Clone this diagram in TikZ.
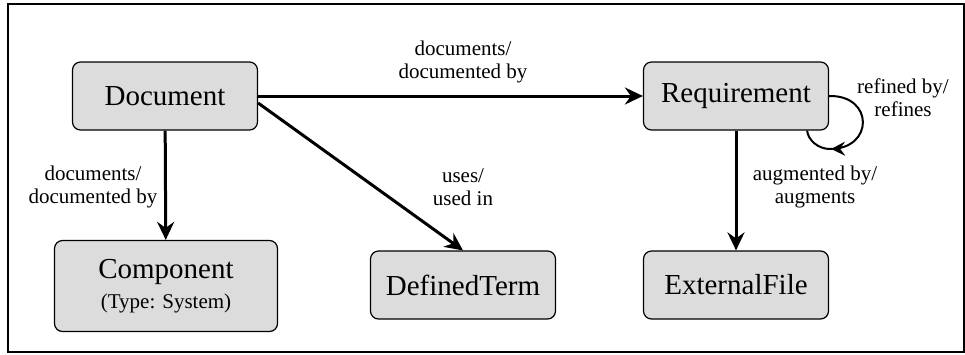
\documentclass[tikz,border=0pt]{standalone}
\usepackage{fontspec}
\setmainfont{Liberation Serif}
\usetikzlibrary{arrows.meta,decorations.markings}
\definecolor{entityfill}{RGB}{220,220,220}

\begin{document}
\begin{tikzpicture}[x=1pt, y=-1pt,
    entity/.style ={draw, line width=1.2pt, rounded corners=8pt, fill=entityfill,
      minimum width=185pt, minimum height=68pt, inner sep=0pt, align=center,
      font=\fontsize{29}{31}\selectfont},
    relation/.style ={line width=3pt, -{Stealth[length=18pt, width=17pt, inset=6pt]}},
    role/.style ={align=center, inner sep=0pt, font=\fontsize{21}{23}\selectfont}]
   \useasboundingbox (0,0) rectangle (965,354);
   \draw[line width=1.5pt] (8,4) rectangle (964,352);
   % entities
   \node[entity] (Doc) at (165,96) {Document};
   \node[entity] (Req) at (736,96) {Requirement};
   \node[entity, minimum width=223pt, minimum height=91pt] (Comp) at (166,286)
      {Component\\[-1pt]{\fontsize{21}{23}\selectfont (Type: System)}};
   \node[entity] (Term) at (463,285) {DefinedTerm};
   \node[entity] (File) at (736,285) {ExternalFile};
   % relations
   \draw[relation] (Doc) to (Req);
   \draw[relation] (Doc) to (Comp);
   \draw[relation] ([yshift=-7pt]Doc.east) to (Term.north);
   \draw[relation] (Req) to (File);
   \draw[line width=2pt, postaction={decorate},
      decoration={markings, mark=at position 0.74 with {\arrow{Stealth[length=14pt, width=14pt, inset=5pt]}}}]
      (Req.east) .. controls (874,95) and (874,149) .. (830,149)
      .. controls (818,149) and (808,140) .. ([xshift=-22pt]Req.south east);
   % roles
   \node[role] (DocReq) at (463,62) {documents/\\documented by};
   \node[role] (DocComp) at (93,187) {documents/\\documented by};
   \node[role] (DocTerm) at (463,187) {uses/\\used in};
   \node[role] (ReqFile) at (815,187) {augmented by/\\augments};
   \node[role] (ReqReq) at (903,98) {refined by/\\refines};
 \end{tikzpicture}
\end{document}
